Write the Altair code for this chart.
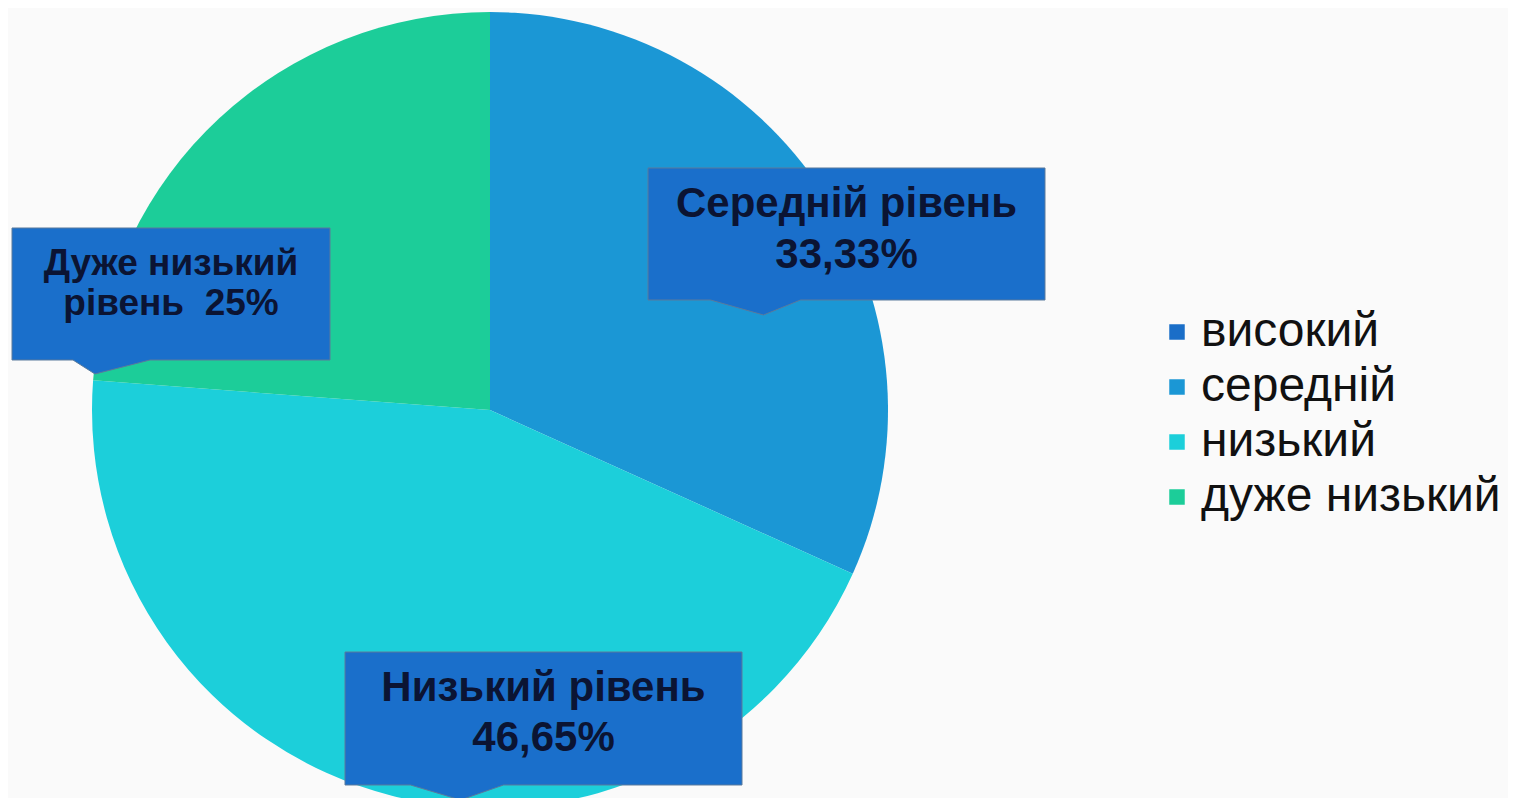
import altair as alt
import pandas as pd

# ---- data ----
levels = ["високий", "середній", "низький", "дуже низький"]
values = [0, 33.33, 46.65, 25]
colors = ["#1A6EC8", "#1B97D5", "#1CCFDA", "#1CCD99"]

label_lines = [
    "Середній рівень\n33,33%",
    "Низький рівень\n46,65%",
    "Дуже низький\nрівень\u00a0\u00a025%",
]

# ---- annotation layout (plot-area pixels) ----
box_cx = [838.5, 535.5, 163]
box_cy = [226, 710.5, 286]
box_w = [397, 397, 318]
box_h = [132, 133, 132]
ptr_x = [-83, -83, -76]      # pointer tip offset from box centre (x)
ptr_l = [-136, -133, -98]    # pointer base left offset
ptr_r = [-46, -40, -21]      # pointer base right offset
ptr_d = [15, 15, 14]         # pointer depth below box
text_y = [209, 693, 267]     # baseline of first text line
label_size = [42, 42, 37]
line_h = [51, 50, 40]

W, H = 1500, 790
CX, CY, R = 482, 402, 398

pie_df = pd.DataFrame({"level": levels, "value": values, "idx": range(len(levels))})

pie = alt.Chart(pie_df).mark_arc(outerRadius=R, stroke=None).encode(
    theta=alt.Theta("value:Q", stack=True),
    order=alt.Order("idx:Q"),
    color=alt.Color(
        "level:N",
        scale=alt.Scale(domain=levels, range=colors),
        sort=levels,
        legend=alt.Legend(
            title=None,
            orient="none",
            legendX=1145,
            legendY=300,
            symbolType="square",
            symbolSize=240,
            symbolStrokeWidth=0,
            symbolOpacity=1,
            labelFont="Liberation Sans",
            labelFontSize=48,
            labelColor="#111111",
            labelOffset=0,
            rowPadding=7,
            labelLimit=600,
        ),
    ),
    x=alt.value(CX),
    y=alt.value(CY),
)


def box_path(w, h, pl, pr, px, pd_):
    s = w / 2.0
    hy = h / 2.0
    pts = [
        (-w / 2, -hy), (w / 2, -hy), (w / 2, hy),
        (pr, hy), (px, hy + pd_), (pl, hy), (-w / 2, hy),
    ]
    d = "M" + " L".join(f"{x / s:.4f},{y / s:.4f}" for x, y in pts) + " Z"
    return d


layers = [pie]
for i in range(len(label_lines)):
    row = pd.DataFrame({"x": [box_cx[i]], "y": [box_cy[i]], "ty": [text_y[i]], "t": [label_lines[i]]})
    path = box_path(box_w[i], box_h[i], ptr_l[i], ptr_r[i], ptr_x[i], ptr_d[i])
    box = alt.Chart(row).mark_point(
        filled=True, opacity=1, fill="#1A6FCB", stroke="#5a7a9c", strokeWidth=1,
        shape=path, size=box_w[i] ** 2,
    ).encode(
        x=alt.X("x:Q", scale=None, axis=None),
        y=alt.Y("y:Q", scale=None, axis=None),
    )
    txt = alt.Chart(row).mark_text(
        font="Liberation Sans", fontWeight="bold", fontSize=label_size[i],
        color="#0B1433", lineBreak="\n", lineHeight=line_h[i],
        align="center", baseline="alphabetic",
    ).encode(
        x=alt.X("x:Q", scale=None, axis=None),
        y=alt.Y("ty:Q", scale=None, axis=None),
        text="t:N",
    )
    layers += [box, txt]

chart = alt.layer(*layers).properties(
    width=W, height=H, autosize=alt.AutoSizeParams(type="none"), padding=0,
    background="#fafafa",
).configure_view(stroke=None)

chart.save("out.html", embed_options={"renderer": "svg", "actions": False})
